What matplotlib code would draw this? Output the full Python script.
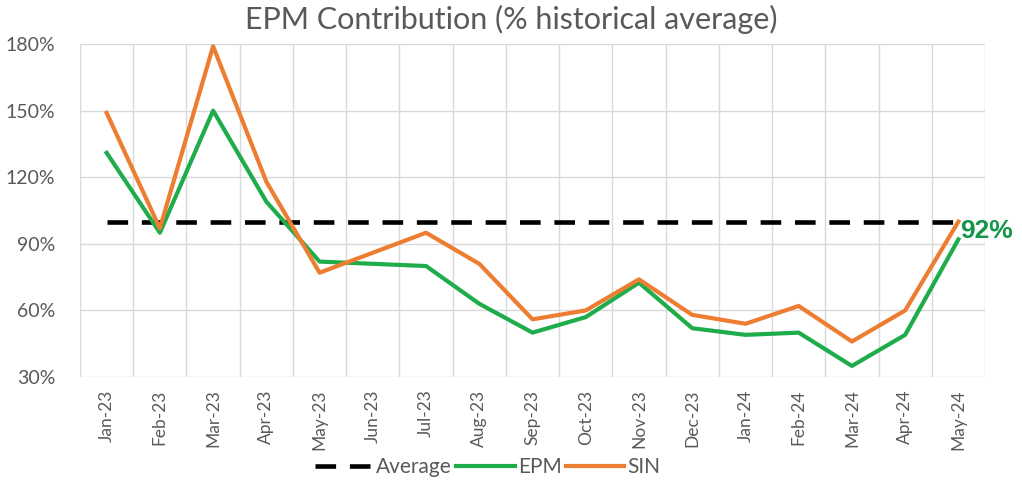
import matplotlib.pyplot as plt
from matplotlib.ticker import FuncFormatter, FixedLocator

plt.rcParams['font.family'] = ['Lato', 'DejaVu Sans']

months = ['Jan-23', 'Feb-23', 'Mar-23', 'Apr-23', 'May-23', 'Jun-23', 'Jul-23', 'Aug-23',
          'Sep-23', 'Oct-23', 'Nov-23', 'Dec-23', 'Jan-24', 'Feb-24', 'Mar-24', 'Apr-24', 'May-24']
epm = [131, 95, 150, 109, 82, 81, 80, 63, 50, 57, 72.5, 52, 49, 50, 35, 49, 92]
sin = [149, 97, 179, 118, 77, 86, 95, 81, 56, 60, 74, 58, 54, 62, 46, 60, 100]
average = [100] * len(months)

grey = '#595959'
grid_c = '#d9d9d9'
green = '#1fac4b'
orange = '#ed7d31'

fig = plt.figure(figsize=(10.22, 4.84), dpi=100)
ax = fig.add_axes([0.0783, 0.221, 0.8855, 0.688])

x = list(range(len(months)))
ax.plot(x, average, color='black', lw=3.3, dashes=(4.5, 3.0), label='Average', zorder=3)
ax.plot(x, epm, color=green, lw=3.0, label='EPM', zorder=4)
ax.plot(x, sin, color=orange, lw=3.0, label='SIN', zorder=5)

ax.set_xlim(-0.5, len(months) - 0.5)
ax.set_ylim(30, 180)
ax.set_yticks([30, 60, 90, 120, 150, 180])
ax.yaxis.set_major_formatter(FuncFormatter(lambda v, p: '%d%%' % v))
ax.set_xticks(x)
ax.set_xticklabels(months, rotation=90)
ax.xaxis.set_minor_locator(FixedLocator([i - 0.5 for i in range(len(months) + 1)]))
ax.tick_params(axis='both', which='both', length=0, colors=grey)
ax.tick_params(axis='y', labelsize=14, pad=18)
ax.tick_params(axis='x', labelsize=12.5, pad=9)
ax.grid(axis='y', which='major', color=grid_c, lw=1)
ax.grid(axis='x', which='minor', color=grid_c, lw=1)
for s in ax.spines.values():
    s.set_visible(False)

ax.text(len(months) - 1 + 0.03, epm[-1] + 4, '%d%%' % epm[-1], color='#12964a',
        fontsize=19, fontweight='bold', ha='left', va='center', family=['Liberation Sans', 'DejaVu Sans'])

fig.suptitle('EPM Contribution (% historical average)', color=grey, fontsize=22, y=0.99)

leg = fig.legend(loc='lower center', bbox_to_anchor=(0.477, -0.025), ncol=3, frameon=False,
                 fontsize=15, handlelength=2.8, handletextpad=0.15, columnspacing=0.2)
for t in leg.get_texts():
    t.set_color(grey)

fig.savefig('out.png', dpi=100)
